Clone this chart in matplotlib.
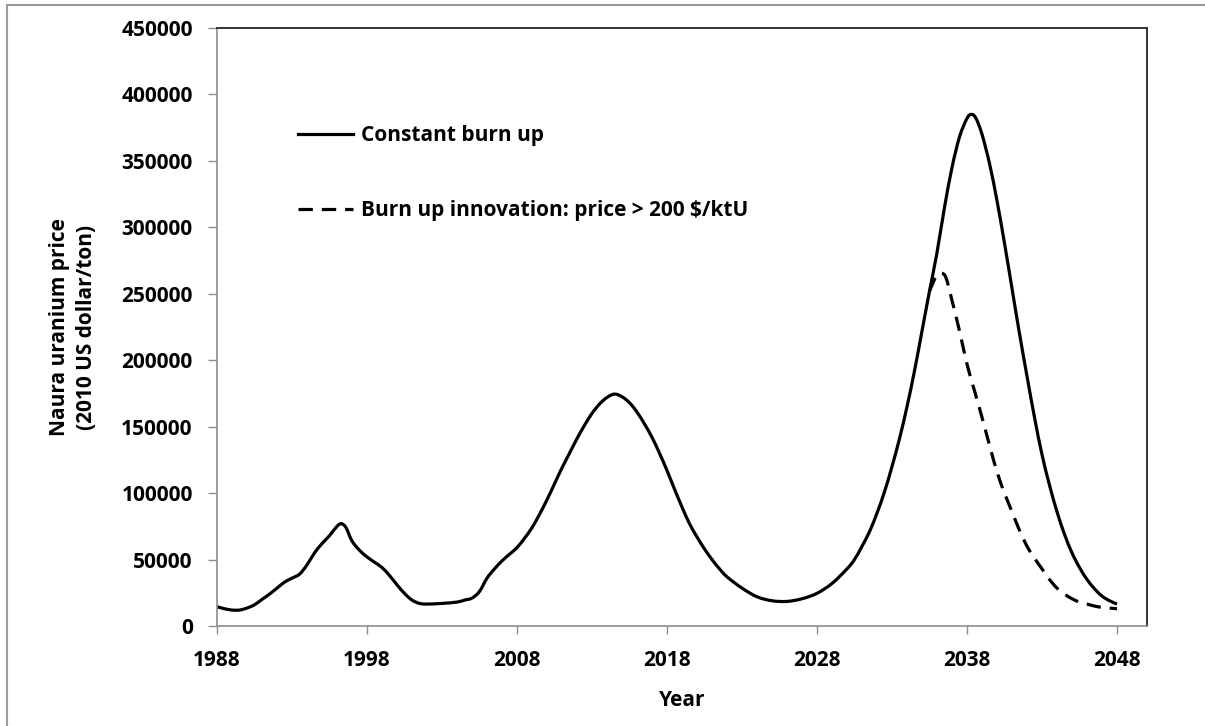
import matplotlib
matplotlib.use("Agg")
import matplotlib.pyplot as plt
from matplotlib.patches import Rectangle, PathPatch
from matplotlib.path import Path
from matplotlib.lines import Line2D

plt.rcParams['font.family'] = ['Open Sans', 'DejaVu Sans']
plt.rcParams['font.weight'] = 'bold'
plt.rcParams['axes.labelweight'] = 'bold'
plt.rcParams['font.size'] = 15

# Values (price in 2010 US dollar / ton)

# Constant burn up
years_const = [1988.0, 1988.5, 1989.0, 1989.5, 1990.0, 1990.5, 1991.0, 1991.5, 1992.0, 1992.5,
               1993.0, 1993.5, 1994.0, 1994.5, 1995.0, 1995.5, 1996.0, 1996.3, 1996.6, 1997.0,
               1997.5, 1998.0, 1998.5, 1999.0, 1999.5, 2000.0, 2000.5, 2001.0, 2001.5, 2002.0,
               2003.0, 2004.0, 2004.5, 2005.0, 2005.5, 2006.0, 2006.5, 2007.0, 2007.5, 2008.0,
               2008.5, 2009.0, 2009.5, 2010.0, 2010.5, 2011.0, 2011.5, 2012.0, 2012.5, 2013.0,
               2013.5, 2014.0, 2014.5, 2015.0, 2015.5, 2016.0, 2016.5, 2017.0, 2017.5, 2018.0,
               2018.5, 2019.0, 2019.5, 2020.0, 2020.5, 2021.0, 2021.5, 2022.0, 2023.0, 2024.0,
               2025.0, 2026.0, 2027.0, 2028.0, 2029.0, 2030.0, 2030.5, 2031.0, 2031.5, 2032.0,
               2032.5, 2033.0, 2033.5, 2034.0, 2034.5, 2035.0, 2035.5, 2036.0, 2036.5, 2037.0,
               2037.5, 2038.0, 2038.3, 2038.6, 2039.0, 2039.5, 2040.0, 2040.5, 2041.0, 2041.5,
               2042.0, 2042.5, 2043.0, 2043.5, 2044.0, 2044.5, 2045.0, 2045.5, 2046.0, 2046.5,
               2047.0, 2047.5, 2048.0]
price_const = [14500, 13000, 12000, 12000, 13500, 16000, 20000, 24000, 28500, 33000,
               36000, 39000, 46000, 55000, 62000, 68000, 75000, 77000, 74000, 64000,
               57000, 52000, 48000, 44000, 38000, 31000, 24500, 19500, 17000, 16500,
               17000, 18000, 19500, 21000, 26000, 36000, 43000, 49000, 54000, 59000,
               66000, 74000, 84000, 95000, 107000, 119000, 130000, 141000, 151000, 160000,
               167000, 172000, 174500, 172500, 168000, 161000, 152000, 142000, 130000, 117000,
               103000, 89500, 77000, 67000, 58000, 50000, 43000, 37000, 28500, 22000,
               19000, 18500, 20500, 24600, 32000, 43000, 50000, 60000, 71000, 85000,
               101000, 120000, 141000, 165000, 192000, 222000, 252000, 281000, 315000, 345000,
               368000, 382000, 385000, 382000, 370000, 348000, 320000, 288000, 254000, 220000,
               188000, 157000, 129000, 106000, 86000, 69000, 55000, 44000, 35000, 28000,
               22500, 19000, 16500]

# Burn up innovation: price > 200 $/ktU
years_innov = [2035.5, 2035.8, 2036.0, 2036.3, 2036.6, 2037.0, 2037.5, 2038.0, 2038.5, 2039.0,
               2039.5, 2040.0, 2040.5, 2041.0, 2041.5, 2042.0, 2042.5, 2043.0, 2043.5, 2044.0,
               2044.5, 2045.0, 2045.5, 2046.0, 2046.5, 2047.0, 2047.5, 2048.0]
price_innov = [252000, 260000, 264000, 265500, 262000, 245000, 222000, 197000, 177000, 157000,
               136000, 116000, 100000, 86000, 72000, 60000, 51000, 43000, 35000, 28500,
               24000, 20500, 18000, 16500, 15000, 14000, 13500, 13000]

labels = ['Constant burn up', 'Burn up innovation: price > 200 $/ktU']
x_ticks = [1988, 1998, 2008, 2018, 2028, 2038, 2048]
y_ticks = [0, 50000, 100000, 150000, 200000, 250000, 300000, 350000, 400000, 450000]

LW = 2.3
DASH = (0, (4.5, 2.8))


def smooth_path(xs, ys):
    # Excel-like smoothed line: cubic bezier through every point (Catmull-Rom tangents)
    n = len(xs)
    verts = [(xs[0], ys[0])]
    codes = [Path.MOVETO]
    for i in range(n - 1):
        x0, y0 = xs[max(i - 1, 0)], ys[max(i - 1, 0)]
        x1, y1 = xs[i], ys[i]
        x2, y2 = xs[i + 1], ys[i + 1]
        x3, y3 = xs[min(i + 2, n - 1)], ys[min(i + 2, n - 1)]
        verts += [(x1 + (x2 - x0) / 6, y1 + (y2 - y0) / 6),
                  (x2 - (x3 - x1) / 6, y2 - (y3 - y1) / 6),
                  (x2, y2)]
        codes += [Path.CURVE4] * 3
    return Path(verts, codes)


fig = plt.figure(figsize=(12.05, 7.26), dpi=100)
ax = fig.add_axes([217 / 1205, 1 - 626 / 726, 930 / 1205, 598 / 726])

ax.add_patch(PathPatch(smooth_path(years_const, price_const), fill=False,
                       edgecolor='black', lw=LW, joinstyle='round'))
ax.add_patch(PathPatch(smooth_path(years_innov, price_innov), fill=False,
                       edgecolor='black', lw=LW, linestyle=DASH))

ax.set_xlim(1988, 2050)
ax.set_ylim(0, 450000)
ax.set_xticks(x_ticks)
ax.set_yticks(y_ticks)

for side in ['left', 'bottom']:
    ax.spines[side].set_color('#8c8c8c')
    ax.spines[side].set_linewidth(1.2)
for side in ['top', 'right']:
    ax.spines[side].set_color('#333333')
    ax.spines[side].set_linewidth(1.4)

ax.tick_params(axis='y', direction='out', length=6.5, width=1, color='#8c8c8c', pad=11)
ax.tick_params(axis='x', direction='out', length=6, width=1, color='#8c8c8c', pad=11)

ax.set_xlabel('Year', va='center')
ax.xaxis.set_label_coords(0.5, -0.124)
ax.set_ylabel('Naura uranium price\n(2010 US dollar/ton)', va='center', linespacing=1.4)
ax.yaxis.set_label_coords(-0.155, 0.5)

handles = [Line2D([], [], color='black', lw=LW),
           Line2D([], [], color='black', lw=LW, linestyle=DASH)]
ax.legend(handles, labels, loc='upper left', bbox_to_anchor=(0.0763, 0.855), frameon=False,
          borderpad=0, handlelength=2.6, handletextpad=0.4, labelspacing=2.6)

# grey frame around the whole picture
fig.add_artist(Rectangle((7 / 1205, -0.1), 1.2, 1.1 - 5 / 726, transform=fig.transFigure,
                         fill=False, edgecolor='#9a9a9a', lw=1.5))

fig.savefig('out.png', dpi=100)
